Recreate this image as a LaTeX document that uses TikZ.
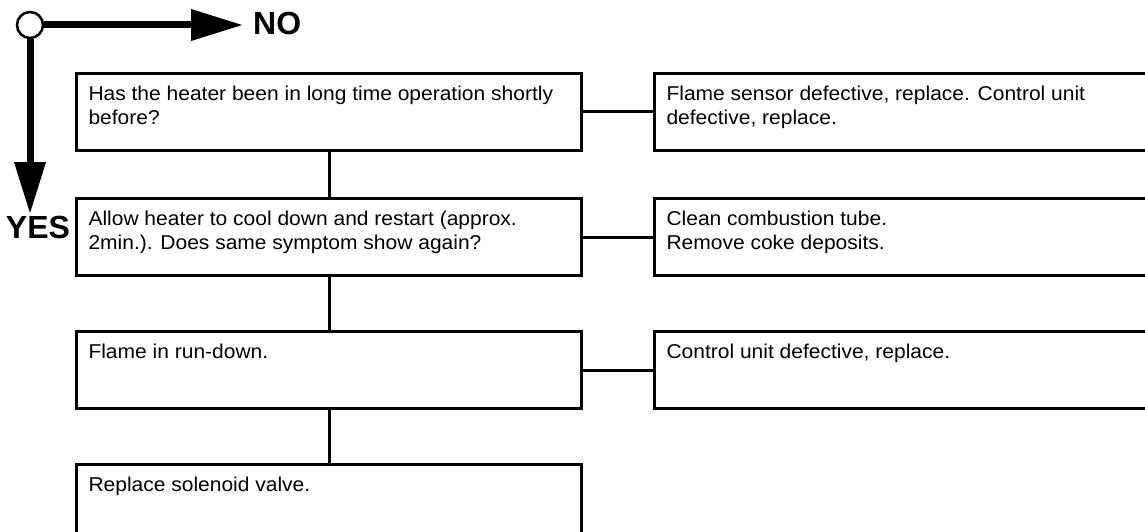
\documentclass[tikz,border=0pt]{standalone}
\usepackage{fontspec}
\setmainfont{Liberation Sans}
\newfontfamily\stepfont[FakeStretch=1.05]{Liberation Sans}
\usetikzlibrary{arrows.meta,positioning}
\newcommand{\boxtext}[1]{\parbox[t][51pt][t]{481pt}{\stepfont\fontsize{20pt}{24pt}\selectfont #1}}

\begin{document}
\begin{tikzpicture}[
    x=1pt, y=-1pt,
    node distance=45pt and 70pt,
    box/.style={rectangle, draw, line width=3pt, inner xsep=12pt, inner ysep=13pt,
                minimum width=505pt, minimum height=77pt},
    link/.style={line width=3pt},
    flow/.style={line width=7pt, -{Triangle[length=52pt, width=30pt]}},
    answer/.style={font=\fontsize{32pt}{32pt}\selectfont\bfseries, inner sep=0pt}
  ]
  \clip (0,0) rectangle (1145,532);

  % yes / no key
  \node[circle, draw, line width=2.5pt, fill=white, minimum size=26pt, inner sep=0pt] (start) at (30,25) {};
  \coordinate (notip) at (243,25);
  \coordinate (yestip) at (30,214);
  \draw[flow] (start) -- (notip);
  \draw[flow] (start) -- (yestip);
  \node[answer, right=10pt of notip, yshift=2pt] (no) {NO};
  \node[answer, below=2pt of yestip, xshift=8pt] (yes) {YES};

  % questions
  \node[box, anchor=north west] (heat) at (75,72) {\boxtext{Has the heater been in long time operation shortly\\before?}};
  \node[box, below=of heat] (cool) {\boxtext{Allow heater to cool down and restart (approx.\\2min.). Does same symptom show again?}};
  \node[box, below=53pt of cool] (rundown) {\boxtext{Flame in run-down.}};
  \node[box, below=53pt of rundown] (valve) {\boxtext{Replace solenoid valve.}};

  % remedies
  \node[box, right=of heat] (sensor) {\boxtext{Flame sensor defective, replace. Control unit\\defective, replace.}};
  \node[box, right=of cool] (tube) {\boxtext{Clean combustion tube.\\Remove coke deposits.}};
  \node[box, right=of rundown] (control) {\boxtext{Control unit defective, replace.}};

  \draw[link] (heat) -- (cool);
  \draw[link] (cool) -- (rundown);
  \draw[link] (rundown) -- (valve);
  \draw[link] (heat) -- (sensor);
  \draw[link] (cool) -- (tube);
  \draw[link] (rundown) -- (control);
\end{tikzpicture}
\end{document}
